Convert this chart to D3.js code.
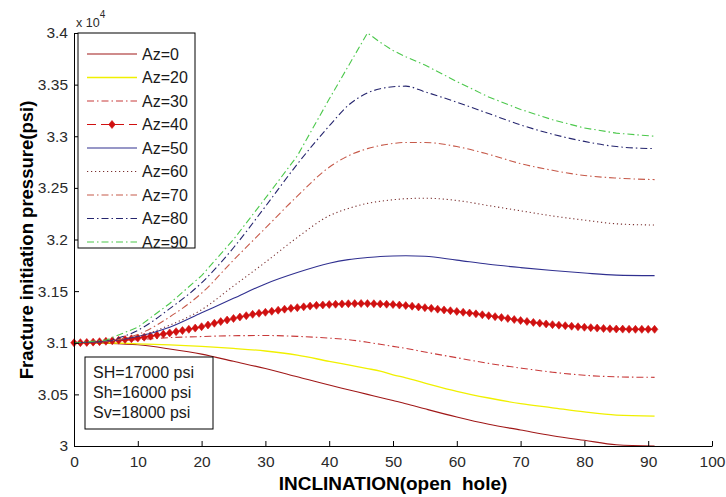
<!DOCTYPE html>
<html><head><meta charset="utf-8">
<script src="https://cdn.jsdelivr.net/npm/d3@7"></script>
<style>
body{margin:0;background:#fff}
svg{display:block;font-family:"Liberation Sans",Arial,Helvetica,sans-serif}
</style>
</head><body>
<svg id="c" width="726" height="497"></svg>
<script>
// ---------- data (values in units of x10^4 psi) ----------
const inclination = [0,5,10,15,20,25,30,35,40,43,46,48,50,52,55,60,65,70,75,80,85,91];
const az0  = [3.1000,3.0995,3.0980,3.0940,3.0890,3.0820,3.0750,3.0670,3.0590,3.0545,3.0500,3.0470,3.0440,3.0410,3.0360,3.0280,3.0210,3.0155,3.0100,3.0055,3.0012,3.0000];
const az20 = [3.1000,3.1000,3.0990,3.0980,3.0965,3.0945,3.0920,3.0880,3.0820,3.0785,3.0750,3.0725,3.0690,3.0660,3.0610,3.0530,3.0465,3.0410,3.0370,3.0330,3.0300,3.0290];
const az30 = [3.1000,3.1010,3.1030,3.1050,3.1060,3.1068,3.1070,3.1062,3.1045,3.1030,3.1005,3.0985,3.0965,3.0945,3.0910,3.0855,3.0800,3.0755,3.0715,3.0685,3.0670,3.0665];
const az50 = [3.1000,3.1012,3.1060,3.1150,3.1290,3.1430,3.1570,3.1680,3.1770,3.1805,3.1825,3.1835,3.1840,3.1842,3.1838,3.1800,3.1760,3.1728,3.1700,3.1675,3.1655,3.1650];
const az60 = [3.1000,3.1012,3.1060,3.1170,3.1320,3.1550,3.1780,3.2020,3.2230,3.2300,3.2350,3.2370,3.2385,3.2395,3.2400,3.2378,3.2328,3.2278,3.2228,3.2188,3.2152,3.2140];
const az70 = [3.1000,3.1015,3.1080,3.1250,3.1480,3.1800,3.2110,3.2420,3.2700,3.2810,3.2880,3.2910,3.2930,3.2940,3.2940,3.2900,3.2825,3.2735,3.2670,3.2620,3.2595,3.2580];
const az80 = [3.1000,3.1020,3.1120,3.1330,3.1580,3.1920,3.2320,3.2730,3.3100,3.3300,3.3420,3.3460,3.3480,3.3485,3.3430,3.3330,3.3220,3.3110,3.3020,3.2950,3.2900,3.2880];
const az90 = [3.1000,3.1025,3.1150,3.1380,3.1650,3.2000,3.2400,3.2810,3.3360,3.3680,3.4000,3.3910,3.3830,3.3770,3.3690,3.3530,3.3380,3.3260,3.3160,3.3080,3.3030,3.3000];

// Az=40 is drawn with a marker at every degree
const inclinationFine = d3.range(0, 92);
const az40 = [3.1000,3.1001,3.1003,3.1006,3.1010,3.1014,3.1019,3.1025,3.1031,3.1038,
              3.1045,3.1054,3.1064,3.1074,3.1084,3.1095,3.1107,3.1118,3.1130,3.1142,
              3.1155,3.1172,3.1189,3.1205,3.1220,3.1235,3.1249,3.1262,3.1275,3.1285,
              3.1295,3.1305,3.1315,3.1325,3.1333,3.1340,3.1348,3.1355,3.1362,3.1366,
              3.1370,3.1373,3.1376,3.1378,3.1379,3.1380,3.1379,3.1378,3.1376,3.1373,
              3.1370,3.1365,3.1360,3.1354,3.1347,3.1340,3.1333,3.1325,3.1318,3.1310,
              3.1303,3.1295,3.1288,3.1280,3.1271,3.1262,3.1253,3.1244,3.1235,3.1225,
              3.1215,3.1206,3.1197,3.1190,3.1182,3.1175,3.1170,3.1165,3.1160,3.1155,
              3.1150,3.1146,3.1142,3.1138,3.1135,3.1133,3.1132,3.1131,3.1130,3.1130,
              3.1130,3.1130];

const seriesNames = ["Az=0","Az=20","Az=30","Az=40","Az=50","Az=60","Az=70","Az=80","Az=90"];
const xTicks = [0,10,20,30,40,50,60,70,80,90,100];
const yTicks = [3,3.05,3.1,3.15,3.2,3.25,3.3,3.35,3.4];
const stressNotes = ["SH=17000 psi","Sh=16000 psi","Sv=18000 psi"];

// ---------- styles ----------
const colors = ["#a01818","#f0f000","#c83a3a","#d01010","#303090","#7a3030","#c65a4a","#25256e","#4cc84c"];
const dashes = [null,null,"7,3,1.5,3",null,null,"1.2,2.8","7,3,1.5,3","7,3,1.5,3","7,3,1.5,3"];

// ---------- layout ----------
const svg = d3.select("#c");
const x = d3.scaleLinear().domain([0,100]).range([74,712]);
const y = d3.scaleLinear().domain([3.0,3.4]).range([446,33]);

const seriesData = [
  {v: az0,  xs: inclination, curve: d3.curveMonotoneX},
  {v: az20, xs: inclination, curve: d3.curveMonotoneX},
  {v: az30, xs: inclination, curve: d3.curveMonotoneX},
  {v: az40, xs: inclinationFine, curve: d3.curveLinear, marker: true},
  {v: az50, xs: inclination, curve: d3.curveMonotoneX},
  {v: az60, xs: inclination, curve: d3.curveMonotoneX},
  {v: az70, xs: inclination, curve: d3.curveMonotoneX},
  {v: az80, xs: inclination, curve: d3.curveMonotoneX},
  {v: az90, xs: inclination, curve: d3.curveLinear}
];

const diamond = "M0,-4L3.3,0L0,4L-3.3,0Z";

seriesData.forEach((s, i) => {
  const pts = s.xs.map((d, k) => [d, s.v[k]]);
  const line = d3.line().x(d => x(d[0])).y(d => y(d[1])).curve(s.curve);
  svg.append("path").datum(pts)
    .attr("d", line).attr("fill","none")
    .attr("stroke", colors[i]).attr("stroke-width", i === 1 ? 1.3 : 1.1)
    .attr("stroke-dasharray", dashes[i]);
  if (s.marker) {
    svg.append("g").selectAll("path").data(pts).join("path")
      .attr("d", diamond)
      .attr("transform", d => `translate(${x(d[0])},${y(d[1])})`)
      .attr("fill", colors[i]).attr("stroke", colors[i]).attr("stroke-width", 0.6);
  }
});

// ---------- axes ----------
const xAxis = d3.axisBottom(x).tickValues(xTicks).tickSizeInner(-5).tickSizeOuter(0).tickPadding(10)
  .tickFormat(d3.format("d"));
const gx = svg.append("g").attr("transform","translate(0,446)").call(xAxis);
const yAxis = d3.axisLeft(y).tickValues(yTicks).tickSizeInner(-5).tickSizeOuter(0).tickPadding(6)
  .tickFormat(d => String(+d.toFixed(2)));
const gy = svg.append("g").attr("transform","translate(74,0)").call(yAxis);
[gx, gy].forEach(g => {
  g.selectAll("text").attr("font-size", 15.5).attr("fill","#2a2a2a")
    .attr("font-family",'"Liberation Sans",Arial,sans-serif');
  g.select(".domain").attr("stroke","#000");
  g.selectAll(".tick line").attr("stroke","#000");
});

// exponent label
const ex = svg.append("text").attr("x", 76).attr("y", 27).attr("font-size", 12.5).attr("fill","#2a2a2a");
ex.append("tspan").text("x 10");
ex.append("tspan").attr("dy", -9).attr("font-size", 10).text("4");

// axis titles
svg.append("text").attr("x", 393).attr("y", 490).attr("text-anchor","middle")
  .attr("font-size", 19).attr("font-weight","bold").text("INCLINATION(open\u00a0 hole)");
svg.append("text").attr("transform","translate(33,240) rotate(-90)").attr("text-anchor","middle")
  .attr("font-size", 18.5).attr("font-weight","bold").text("Fracture initiation pressure(psi)");

// ---------- legend ----------
const lg = svg.append("g");
lg.append("rect").attr("x",78).attr("y",33).attr("width",117).attr("height",215)
  .attr("fill","#fff").attr("stroke","#000").attr("stroke-width",1);
seriesNames.forEach((name, i) => {
  const yy = 54 + i * 23.5;
  lg.append("line").attr("x1",87).attr("x2",137).attr("y1",yy).attr("y2",yy)
    .attr("stroke", colors[i]).attr("stroke-width", i === 1 ? 1.3 : 1.1)
    .attr("stroke-dasharray", i === 3 ? "9,5" : dashes[i]);
  if (i === 3) {
    lg.append("path").attr("d", diamond).attr("transform",`translate(112,${yy})`)
      .attr("fill", colors[i]).attr("stroke", colors[i]).attr("stroke-width",0.6);
  }
  lg.append("text").attr("x",142).attr("y",yy).attr("dy","0.36em")
    .attr("font-size",16).attr("fill","#1a1a1a").text(name);
});

// ---------- stress annotation ----------
const an = svg.append("g");
an.append("rect").attr("x",85).attr("y",357).attr("width",128).attr("height",72)
  .attr("fill","#fff").attr("stroke","#000").attr("stroke-width",1);
stressNotes.forEach((t, i) => {
  an.append("text").attr("x",93).attr("y",378 + i*20).attr("font-size",16).attr("fill","#1a1a1a").text(t);
});
</script>
</body></html>
